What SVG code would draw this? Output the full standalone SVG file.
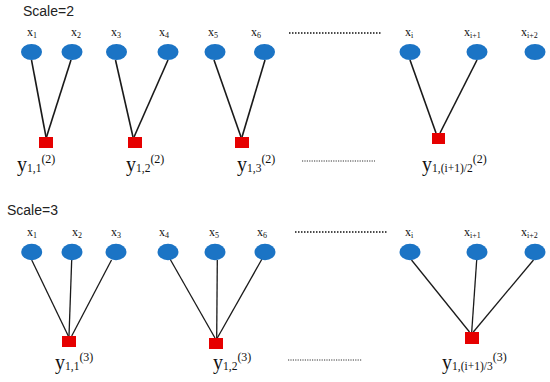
<svg xmlns="http://www.w3.org/2000/svg" width="550" height="382" viewBox="0 0 550 382">
<style>
.n{fill:#1b74c5;}
.f{fill:#e60000;}
.e{stroke:#1a1a1a;stroke-width:1.6;fill:none;}
.e2{stroke:#1a1a1a;stroke-width:1.3;fill:none;}
.xl{font-family:"Liberation Serif",serif;font-size:12px;fill:#111;}
.xs{font-size:8px;}
.yl{font-family:"Liberation Serif",serif;font-size:20px;fill:#111;}
.ys{font-size:11.5px;}
.yp{font-size:12px;}
.title{font-family:"Liberation Sans",sans-serif;font-size:14px;fill:#222;}
.dot{stroke:#111;stroke-width:1.6;stroke-dasharray:1.5 1.5;fill:none;}
.dot2{stroke:#333;stroke-width:1;stroke-dasharray:1.2 1.2;fill:none;}
</style>
<rect width="550" height="382" fill="#fff"/>
<text class="title" x="23" y="16">Scale=2</text>
<text class="title" x="7" y="215">Scale=3</text>
<g id="connectors">
<line class="e" x1="31.5" y1="60" x2="46" y2="137"/>
<line class="e" x1="71" y1="60" x2="46.5" y2="137"/>
<line class="e" x1="115.5" y1="60" x2="133" y2="137"/>
<line class="e" x1="168" y1="60" x2="134" y2="137"/>
<line class="e" x1="214" y1="60" x2="241" y2="137"/>
<line class="e" x1="265" y1="60" x2="242" y2="137"/>
<line class="e" x1="410" y1="60" x2="436" y2="133"/>
<line class="e" x1="477" y1="60" x2="440" y2="133"/>
<line class="e2" x1="31.7" y1="260" x2="68.3" y2="336"/>
<line class="e2" x1="71.7" y1="260" x2="69" y2="336"/>
<line class="e2" x1="111.5" y1="260" x2="71.7" y2="336"/>
<line class="e2" x1="170" y1="259" x2="215" y2="338"/>
<line class="e2" x1="217.3" y1="260" x2="216.7" y2="338"/>
<line class="e2" x1="262" y1="259" x2="217.3" y2="338"/>
<line class="e2" x1="411.5" y1="260" x2="469.5" y2="332"/>
<line class="e2" x1="476.7" y1="260" x2="471.7" y2="332"/>
<line class="e2" x1="533.5" y1="260" x2="473.3" y2="332"/>
<line class="dot" x1="289" y1="33" x2="381" y2="33"/>
<line class="dot2" x1="302" y1="161" x2="375" y2="161"/>
<line class="dot" x1="295" y1="232" x2="387" y2="232"/>
<line class="dot2" x1="288" y1="360" x2="362" y2="360"/>
</g>
<!-- Scale=2 row -->
<g id="t_x1"><ellipse class="n" cx="31.5" cy="52" rx="10.5" ry="8"/><text class="xl" x="27" y="36">x<tspan class="xs" dy="2">1</tspan></text></g>
<g id="t_x2"><ellipse class="n" cx="72" cy="52" rx="10.5" ry="8"/><text class="xl" x="71" y="36">x<tspan class="xs" dy="2">2</tspan></text></g>
<g id="t_x3"><ellipse class="n" cx="116.5" cy="52" rx="10.5" ry="8"/><text class="xl" x="111" y="36">x<tspan class="xs" dy="2">3</tspan></text></g>
<g id="t_x4"><ellipse class="n" cx="168" cy="52" rx="10.5" ry="8"/><text class="xl" x="159" y="36">x<tspan class="xs" dy="2">4</tspan></text></g>
<g id="t_x5"><ellipse class="n" cx="215" cy="52" rx="10.5" ry="8"/><text class="xl" x="208" y="36">x<tspan class="xs" dy="2">5</tspan></text></g>
<g id="t_x6"><ellipse class="n" cx="264.5" cy="52" rx="10.5" ry="8"/><text class="xl" x="251" y="36">x<tspan class="xs" dy="2">6</tspan></text></g>
<g id="t_xi"><ellipse class="n" cx="410" cy="52" rx="10.5" ry="8"/><text class="xl" x="405" y="36">x<tspan class="xs" dy="2">i</tspan></text></g>
<g id="t_xi1"><ellipse class="n" cx="477" cy="52" rx="10.5" ry="8"/><text class="xl" x="464" y="36">x<tspan class="xs" dy="2">i+1</tspan></text></g>
<g id="t_xi2"><ellipse class="n" cx="535" cy="52" rx="10.5" ry="8"/><text class="xl" x="521" y="36">x<tspan class="xs" dy="2">i+2</tspan></text></g>
<g id="t_y1"><rect class="f" x="39" y="137" width="14" height="11"/><text class="yl" x="17" y="171">y<tspan class="ys" dy="1">1,1</tspan><tspan class="yp" dy="-9">(2)</tspan></text></g>
<g id="t_y2"><rect class="f" x="128" y="137" width="14" height="11"/><text class="yl" x="126" y="171">y<tspan class="ys" dy="1">1,2</tspan><tspan class="yp" dy="-9">(2)</tspan></text></g>
<g id="t_y3"><rect class="f" x="235" y="137" width="14" height="11"/><text class="yl" x="237" y="171">y<tspan class="ys" dy="1">1,3</tspan><tspan class="yp" dy="-9">(2)</tspan></text></g>
<g id="t_yi"><rect class="f" x="432" y="133" width="13" height="11"/><text class="yl" x="422" y="171">y<tspan class="ys" dy="1">1,(i+1)/2</tspan><tspan class="yp" dy="-9">(2)</tspan></text></g>
<!-- Scale=3 row -->
<g id="b_x1"><ellipse class="n" cx="31.7" cy="252" rx="10.5" ry="8.3"/><text class="xl" x="27" y="236">x<tspan class="xs" dy="2">1</tspan></text></g>
<g id="b_x2"><ellipse class="n" cx="72" cy="252" rx="10.5" ry="8.3"/><text class="xl" x="72" y="236">x<tspan class="xs" dy="2">2</tspan></text></g>
<g id="b_x3"><ellipse class="n" cx="116" cy="252" rx="10.5" ry="8.3"/><text class="xl" x="111" y="236">x<tspan class="xs" dy="2">3</tspan></text></g>
<g id="b_x4"><ellipse class="n" cx="168" cy="252" rx="10.5" ry="8.3"/><text class="xl" x="159" y="236">x<tspan class="xs" dy="2">4</tspan></text></g>
<g id="b_x5"><ellipse class="n" cx="215" cy="252" rx="10.5" ry="8.3"/><text class="xl" x="209" y="236">x<tspan class="xs" dy="2">5</tspan></text></g>
<g id="b_x6"><ellipse class="n" cx="265" cy="252" rx="10.5" ry="8.3"/><text class="xl" x="257" y="236">x<tspan class="xs" dy="2">6</tspan></text></g>
<g id="b_xi"><ellipse class="n" cx="410" cy="252" rx="10.5" ry="8.3"/><text class="xl" x="405" y="236">x<tspan class="xs" dy="2">i</tspan></text></g>
<g id="b_xi1"><ellipse class="n" cx="477" cy="252" rx="10.5" ry="8.3"/><text class="xl" x="464" y="236">x<tspan class="xs" dy="2">i+1</tspan></text></g>
<g id="b_xi2"><ellipse class="n" cx="535" cy="252" rx="10.5" ry="8.3"/><text class="xl" x="521" y="236">x<tspan class="xs" dy="2">i+2</tspan></text></g>
<g id="b_y1"><rect class="f" x="62" y="336" width="14" height="11"/><text class="yl" x="55" y="369">y<tspan class="ys" dy="1">1,1</tspan><tspan class="yp" dy="-9">(3)</tspan></text></g>
<g id="b_y2"><rect class="f" x="209" y="338" width="14" height="11"/><text class="yl" x="213" y="369">y<tspan class="ys" dy="1">1,2</tspan><tspan class="yp" dy="-9">(3)</tspan></text></g>
<g id="b_yi"><rect class="f" x="465" y="332" width="14" height="12"/><text class="yl" x="442" y="369">y<tspan class="ys" dy="1">1,(i+1)/3</tspan><tspan class="yp" dy="-9">(3)</tspan></text></g>
</svg>
